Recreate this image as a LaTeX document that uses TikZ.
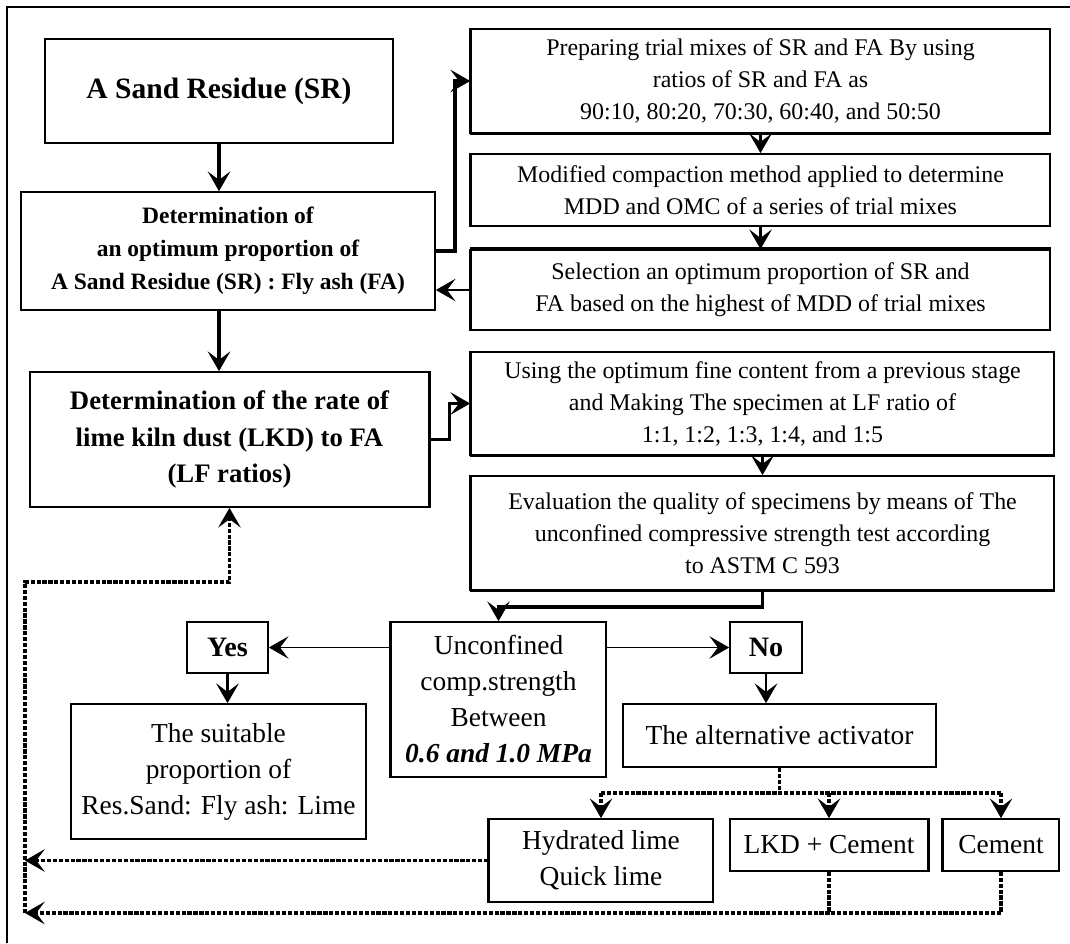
\documentclass[tikz,border=0pt]{standalone}
\usepackage{fontspec}
\setmainfont{Liberation Serif}
\usetikzlibrary{arrows.meta}

\tikzset{
  box/.style={draw,line width=1.2pt,inner sep=0pt,align=center,font=\fontsize{17}{22.8}\selectfont},
  bigbox/.style={box,font=\fontsize{19.5}{25.6}\selectfont},
  boxsize/.style 2 args={minimum width=#1*0.025cm,minimum height=#2*0.025cm},
  heavy/.style={line width=2.2pt},
  tip/.style={-{Stealth[length=14pt,width=16pt,inset=6pt]}},
  link/.style={line width=2pt,tip},
  thinlink/.style={line width=0.8pt,tip},
  dotlink/.style={line width=2.4pt,dash pattern=on 3pt off 1.2pt},
  dotarrow/.style={dotlink,tip},
}

\begin{document}
\begin{tikzpicture}[x=0.025cm,y=-0.025cm]
 \useasboundingbox (0,0) rectangle (1070,943);
 \draw[line width=1.6pt] (7,943) -- (7,7) -- (1070,7);

 % left column
 \node[box,boxsize={348}{104},line width=2pt,font=\bfseries\fontsize{21}{26}\selectfont] (sr) at (219,91) {A Sand Residue (SR)};
 \node[box,boxsize={414}{118},font=\bfseries\fontsize{16.7}{23.5}\selectfont] (det1) at (228,251)
   {Determination of\\an optimum proportion of\\A Sand Residue (SR) : Fly ash (FA)};
 \node[box,boxsize={399}{135},font=\bfseries\fontsize{19}{26}\selectfont] (det2) at (229.5,439.5)
   {Determination of the rate of\\lime kiln dust (LKD) to FA\\(LF ratios)};

 % right column
 \node[box,boxsize={579}{104}] (prep) at (760.5,81)
   {Preparing trial mixes of SR and FA By using\\ratios of SR and FA as\\90:10, 80:20, 70:30, 60:40, and 50:50};
 \node[box,boxsize={579}{72}] (modif) at (760.5,190)
   {Modified compaction method applied to determine\\MDD and OMC of a series of trial mixes};
 \node[box,boxsize={579}{80}] (select) at (760.5,290)
   {Selection an optimum proportion of SR and\\FA based on the highest of MDD of trial mixes};
 \node[box,boxsize={583}{103}] (using) at (762.5,403.5)
   {Using the optimum fine content from a previous stage\\and Making The specimen at LF ratio of\\1:1, 1:2, 1:3, 1:4, and 1:5};
 \node[box,boxsize={583}{114}] (eval) at (762.5,533)
   {Evaluation the quality of specimens by means of The\\unconfined compressive strength test according\\to ASTM C 593};

 % decision
 \node[bigbox,boxsize={215}{155}] (unc) at (498.5,699.5)
   {Unconfined\\comp.strength\\Between\\\textbf{\textit{0.6 and 1.0 MPa}}};
 \node[box,boxsize={81}{51},font=\bfseries\fontsize{20}{24}\selectfont] (yes) at (227.5,647.5) {Yes};
 \node[box,boxsize={72}{51},font=\bfseries\fontsize{20}{24}\selectfont] (no) at (766,647.5) {No};
 \node[bigbox,boxsize={295}{135}] (suit) at (218.5,771.5)
   {The suitable\\proportion of\\Res.Sand: Fly ash: Lime};
 \node[bigbox,boxsize={313}{63}] (alt) at (779.5,735.5) {The alternative activator};
 \node[bigbox,boxsize={224}{83}] (hyd) at (601,860.5) {Hydrated lime\\Quick lime};
 \node[bigbox,boxsize={198}{52}] (lkd) at (829,845) {LKD + Cement};
 \node[bigbox,boxsize={116}{52}] (cem) at (1001,845) {Cement};

 % heavier box sides
 \foreach \n in {prep,modif,select,using,eval,unc,hyd,cem} {
    \draw[heavy] (\n.north west) -- (\n.south west);
 }
 \foreach \n in {prep,using,eval} {
    \draw[heavy] (\n.south west) -- (\n.south east);
 }
 \foreach \n in {det2,lkd} {
    \draw[heavy] (\n.north east) -- (\n.south east);
 }
 \draw[line width=3pt] (select.north west) -- (select.north east);

 % connectors
 \draw[link,line width=2.5pt] (sr.south) -- (sr.south |- det1.north);
 \draw[link,line width=2.5pt] (det1.south -| sr.south) -- (det2.north -| sr.south);
 \draw[link,line width=2.5pt] (det1.east) -- ++(19,0) |- (prep.west);
 \draw[link] (prep) -- (modif);
 \draw[link] (modif) -- (select);
 \draw[thinlink] (select.west) -- (select.west -| det1.east);
 \draw[link] (det2.east) -- ++(20,0) |- (using.west);
 \draw[link] (using) -- (eval);
 \draw[link,line width=2.5pt] (eval.south) -- ++(0,16) -| (unc.north);
 \draw[thinlink] (unc.west |- yes.east) -- (yes.east);
 \draw[thinlink] (unc.east |- no.west) -- (no.west);
 \draw[link] (yes.south) -- (yes.south |- suit.north);
 \draw[link] (no.south) -- (no.south |- alt.north);

 % alternative activators and return loop
 \draw[dotlink] (alt.south) -- ++(0,25) coordinate (fork);
 \draw[dotlink] (fork -| hyd.north) -- (fork -| cem.north);
 \foreach \n in {hyd,lkd,cem} {
    \draw[dotarrow] (fork -| \n.north) -- (\n.north);
 }
 \coordinate (rettop) at (25,582);
 \coordinate (retbot) at (25,913);
 \draw[dotarrow] (hyd.west) -- (hyd.west -| retbot);
 \draw[dotlink] (lkd.south) -- (lkd.south |- retbot);
 \draw[dotarrow] (cem.south) |- (retbot);
 \draw[dotarrow] (retbot) -- (rettop) -| (det2.south);
\end{tikzpicture}
\end{document}
